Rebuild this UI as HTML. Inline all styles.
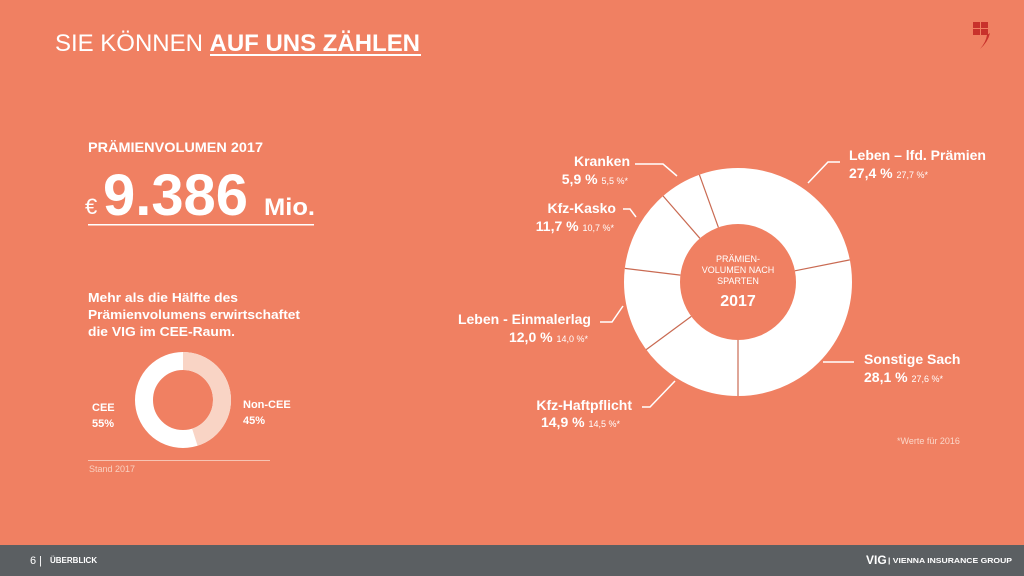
<!DOCTYPE html>
<html><head><meta charset="utf-8"><style>
html,body{margin:0;padding:0;background:#f08062;}
svg{display:block;font-family:"Liberation Sans",sans-serif;}
</style></head><body>
<svg width="1024" height="576" viewBox="0 0 1024 576" xmlns="http://www.w3.org/2000/svg">
<rect width="1024" height="576" fill="#f08062"/>
<!-- title -->
<text x="55" y="51" font-size="24" fill="#fff" textLength="365" lengthAdjust="spacingAndGlyphs">SIE KÖNNEN <tspan font-weight="bold">AUF UNS ZÄHLEN</tspan></text>
<rect x="210" y="54" width="211" height="2" fill="#fff"/>
<!-- logo -->
<g fill="#c8322c">
<rect x="973" y="22" width="7" height="6"/><rect x="981" y="22" width="7" height="6"/>
<rect x="973" y="29" width="7" height="6"/><rect x="981" y="29" width="7" height="6"/>
<path d="M990 33 Q988 42 980 49 Q986 42 987 35 Z"/>
</g>
<!-- left block -->
<text x="88" y="152" font-size="14" font-weight="bold" fill="#fff" textLength="175" lengthAdjust="spacingAndGlyphs">PRÄMIENVOLUMEN 2017</text>
<text x="85" y="214" font-size="22" fill="#fff">€</text>
<text x="103" y="215" font-size="58" font-weight="bold" fill="#fff" textLength="145" lengthAdjust="spacingAndGlyphs">9.386</text>
<text x="264" y="215" font-size="24" font-weight="bold" fill="#fff" textLength="51" lengthAdjust="spacingAndGlyphs">Mio.</text>
<rect x="88" y="224" width="226" height="1.5" fill="#fff"/>
<g font-size="13" font-weight="bold" fill="#fff">
<text x="88" y="302" textLength="150" lengthAdjust="spacingAndGlyphs">Mehr als die Hälfte des</text>
<text x="88" y="319" textLength="212" lengthAdjust="spacingAndGlyphs">Prämienvolumens erwirtschaftet</text>
<text x="88" y="336" textLength="147" lengthAdjust="spacingAndGlyphs">die VIG im CEE-Raum.</text>
</g>
<circle cx="183" cy="400" r="39" fill="none" stroke="#fff" stroke-width="18"/>
<circle cx="183" cy="400" r="39" fill="none" stroke="#f9d4c5" stroke-width="18" stroke-dasharray="110.27 300" transform="rotate(-90 183 400)"/>
<g font-size="11" font-weight="bold" fill="#fff">
<text x="92" y="411">CEE</text><text x="92" y="427">55%</text>
<text x="243" y="408">Non-CEE</text><text x="243" y="424">45%</text>
</g>
<rect x="88" y="460" width="182" height="1" fill="#f7c4b3"/>
<text x="89" y="472" font-size="9" fill="#f9d0c0">Stand 2017</text>
<!-- big donut -->
<circle cx="738" cy="282" r="86" fill="none" stroke="#fff" stroke-width="56"/>
<g stroke="#c96a52" stroke-width="1.2">
<line x1="718.4" y1="227.4" x2="699.4" y2="174.7"/>
<line x1="794.9" y1="270.8" x2="849.8" y2="259.9"/>
<line x1="738" y1="340" x2="738" y2="396"/>
<line x1="691.3" y1="316.4" x2="646.2" y2="349.6"/>
<line x1="680.4" y1="275.1" x2="624.8" y2="268.4"/>
<line x1="699.9" y1="238.3" x2="663.1" y2="196"/>
</g>
<g text-anchor="middle" fill="#fff">
<text x="738" y="262" font-size="9">PRÄMIEN-</text>
<text x="738" y="273" font-size="9">VOLUMEN NACH</text>
<text x="738" y="284" font-size="9">SPARTEN</text>
<text x="738" y="306" font-size="16" font-weight="bold">2017</text>
</g>
<!-- leader lines -->
<g fill="none" stroke="#fff" stroke-width="1.5">
<polyline points="635,164 663,164 677,176"/>
<polyline points="840,162 828,162 808,183"/>
<polyline points="623,209 630,209 636,217"/>
<polyline points="600,322 612,322 623,306"/>
<polyline points="642,407 650,407 675,381"/>
<polyline points="823,362 854,362"/>
</g>
<g fill="#fff" font-weight="bold">
<text x="849" y="160" font-size="14">Leben – lfd. Prämien</text>
<text x="849" y="178" font-size="14">27,4 % <tspan font-size="9" font-weight="normal">27,7 %*</tspan></text>
<text x="864" y="364" font-size="14">Sonstige Sach</text>
<text x="864" y="382" font-size="14">28,1 % <tspan font-size="9" font-weight="normal">27,6 %*</tspan></text>
<g text-anchor="end">
<text x="630" y="166" font-size="14">Kranken</text>
<text x="628" y="184" font-size="14">5,9 % <tspan font-size="9" font-weight="normal">5,5 %*</tspan></text>
<text x="616" y="213" font-size="14">Kfz-Kasko</text>
<text x="614" y="231" font-size="14">11,7 % <tspan font-size="9" font-weight="normal">10,7 %*</tspan></text>
<text x="591" y="324" font-size="14">Leben - Einmalerlag</text>
<text x="588" y="342" font-size="14">12,0 % <tspan font-size="9" font-weight="normal">14,0 %*</tspan></text>
<text x="632" y="410" font-size="14">Kfz-Haftpflicht</text>
<text x="620" y="427" font-size="14">14,9 % <tspan font-size="9" font-weight="normal">14,5 %*</tspan></text>
</g>
</g>
<text x="897" y="444" font-size="9" fill="#fbd6c8">*Werte für 2016</text>
<!-- footer -->
<rect x="0" y="545" width="1024" height="31" fill="#5b5f62"/>
<text x="30" y="564" font-size="11" fill="#fff">6 |</text>
<text x="50" y="563" font-size="8" font-weight="bold" fill="#fff">ÜBERBLICK</text>
<text x="866" y="564" font-size="12" font-weight="bold" fill="#fff">VIG</text>
<text x="888" y="563" font-size="7" font-weight="bold" fill="#fff" textLength="124" lengthAdjust="spacingAndGlyphs">| VIENNA INSURANCE GROUP</text>
</svg>
</body></html>
